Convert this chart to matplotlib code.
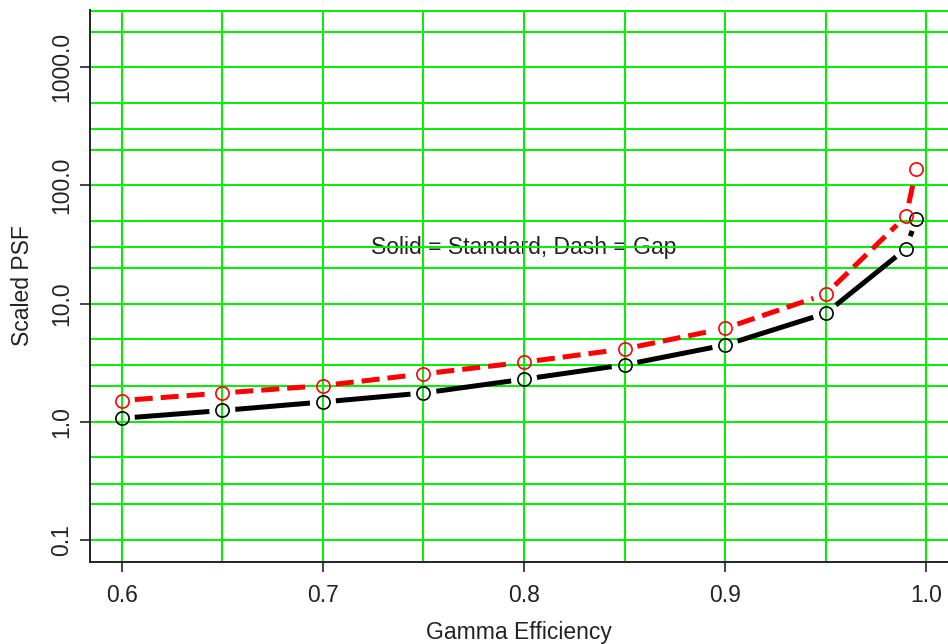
import numpy as np
import matplotlib.pyplot as plt
from matplotlib.ticker import NullLocator

# scaled PSF against gamma efficiency, standard vs gap design
efficiency = [0.6, 0.65, 0.7, 0.75, 0.8, 0.85, 0.9, 0.95, 0.99, 0.995]
psf_standard = [1.07, 1.245, 1.47, 1.75, 2.29, 3.03, 4.46, 8.27, 29.2, 52.4]
psf_gap = [1.51, 1.75, 2.02, 2.54, 3.19, 4.13, 6.18, 12.0, 55.1, 138.0]

x_ticks = [0.6, 0.7, 0.8, 0.9, 1.0]
x_tick_labels = ["0.6", "0.7", "0.8", "0.9", "1.0"]
y_ticks = [0.1, 1, 10, 100, 1000]
y_tick_labels = ["0.1", "1.0", "10.0", "100.0", "1000.0"]

plt.rcParams['font.family'] = ['Liberation Sans', 'DejaVu Sans']
plt.rcParams['font.size'] = 16.5

fig = plt.figure(figsize=(9.48, 6.44), dpi=100)
ax = fig.add_axes([90 / 948, 82 / 644, 858 / 948, 552 / 644])

ax.set_yscale('log')
ax.set_xlim(0.5842, 1.0108)
ax.set_ylim(0.065, 3050)

# green reference grid
for k in range(-1, 4):
    for m in [1, 2, 3, 5]:
        ax.axhline(m * 10.0 ** k, color='#00f000', lw=1.4, zorder=1)
for gx in np.arange(0.6, 1.001, 0.05):
    ax.axvline(gx, color='#00f000', lw=1.4, zorder=1)

ax.set_xticks(x_ticks)
ax.set_xticklabels(x_tick_labels)
ax.set_yticks(y_ticks)
ax.set_yticklabels(y_tick_labels, rotation=90, va='center')
ax.yaxis.set_minor_locator(NullLocator())
ax.tick_params(length=7, width=1.2, color='#222222', labelcolor='#222222')
ax.tick_params(axis='x', pad=9)
ax.tick_params(axis='y', pad=5)

for side in ['top', 'right']:
    ax.spines[side].set_visible(False)
for side in ['left', 'bottom']:
    ax.spines[side].set_linewidth(1.4)
    ax.spines[side].set_color('#222222')


def draw_series(x, y, color, dashed):
    # line segments stop short of each point marker
    gap = 13.0
    pts = ax.transData.transform(np.column_stack([x, y]))
    inv = ax.transData.inverted()
    for p0, p1 in zip(pts[:-1], pts[1:]):
        d = p1 - p0
        length = np.hypot(d[0], d[1])
        if length <= 2 * gap:
            continue
        u = d / length
        seg = inv.transform([p0 + u * gap, p1 - u * gap])
        if dashed:
            ax.plot(seg[:, 0], seg[:, 1], color=color, lw=3.6, dashes=(3.6, 1.6),
                    dash_capstyle='butt', zorder=3)
        else:
            ax.plot(seg[:, 0], seg[:, 1], color=color, lw=3.6,
                    solid_capstyle='butt', zorder=3)
    ax.plot(x, y, 'o', mfc='none', mec=color, ms=9.5, mew=1.2, zorder=4)


draw_series(efficiency, psf_standard, 'black', False)
draw_series(efficiency, psf_gap, 'red', True)

ax.text(0.8, 30, "Solid = Standard, Dash = Gap", ha='center', va='center',
        color='#222222', zorder=0.5)

ax.set_xlabel("Gamma Efficiency", color='#222222', labelpad=10)
ax.set_ylabel("Scaled PSF", color='#222222', labelpad=12)

fig.savefig('out.png', dpi=100)
